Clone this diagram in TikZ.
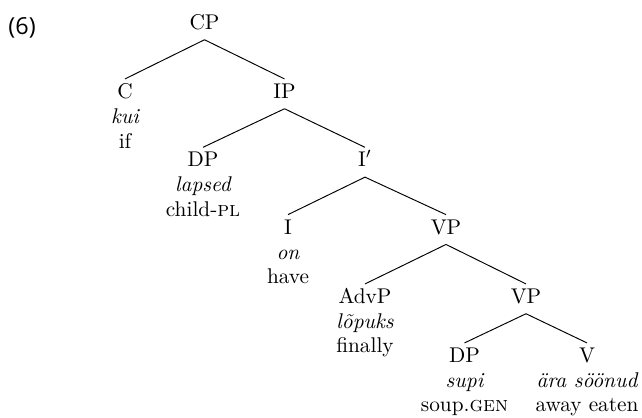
\documentclass[tikz,border=0pt]{standalone}
\usepackage{fontspec}
\newfontfamily\exfont{Open Sans}
\begin{document}
\begin{tikzpicture}[x=0.4695pt,y=-0.4695pt,
  cat/.style={inner sep=0pt,text height=8.9pt,text depth=4.7pt,anchor=base},
  gl/.style={inner sep=0pt,anchor=base},
  branch/.style={draw=black,line width=0.45pt}]
\useasboundingbox (0,0) rectangle (642,417);
\node[gl,anchor=base west,font=\exfont\fontsize{11pt}{13pt}\selectfont] (ex) at (8,34) {(6)};
% categories
\node[cat] (cp) at (204.5,29.3) {CP};
\node[cat] (c) at (125,98.3) {C};
\node[gl] (cw) at (125,123.3) {\itshape kui};
\node[gl] (cg) at (125,148.3) {if};
\node[cat] (ip) at (284.5,98.3) {IP};
\node[cat] (dpa) at (203,166.7) {DP};
\node[gl] (dpaw) at (203,191.7) {\itshape lapsed};
\node[gl] (dpag) at (203,216.7) {child-\textsc{pl}};
\node[cat] (ib) at (365,166.7) {I$'$};
\node[cat] (i) at (288,234) {I};
\node[gl] (iw) at (288,259) {\itshape on};
\node[gl] (ig) at (288,283.5) {have};
\node[cat] (vpa) at (446,234) {VP};
\node[cat] (adv) at (365,303.3) {AdvP};
\node[gl] (advw) at (365,328) {\itshape lõpuks};
\node[gl] (advg) at (365,352.5) {finally};
\node[cat] (vpb) at (526,303.3) {VP};
\node[cat] (dpb) at (464.5,362.3) {DP};
\node[gl] (dpbw) at (464.5,387.5) {\itshape supi};
\node[gl] (dpbg) at (464.5,411.7) {soup.\textsc{gen}};
\node[cat] (v) at (587,362.3) {V};
\node[gl] (vw) at (587,387.5) {\itshape ära söönud};
\node[gl] (vg) at (587,411.7) {away eaten};
% branches
\draw[branch] (cp.south) -- (c.north);
\draw[branch] (cp.south) -- (ip.north);
\draw[branch] (ip.south) -- (dpa.north);
\draw[branch] (ip.south) -- (ib.north);
\draw[branch] (ib.south) -- (i.north);
\draw[branch] (ib.south) -- (vpa.north);
\draw[branch] (vpa.south) -- (adv.north);
\draw[branch] (vpa.south) -- (vpb.north);
\draw[branch] (vpb.south) -- (dpb.north);
\draw[branch] (vpb.south) -- (v.north);
\end{tikzpicture}
\end{document}
